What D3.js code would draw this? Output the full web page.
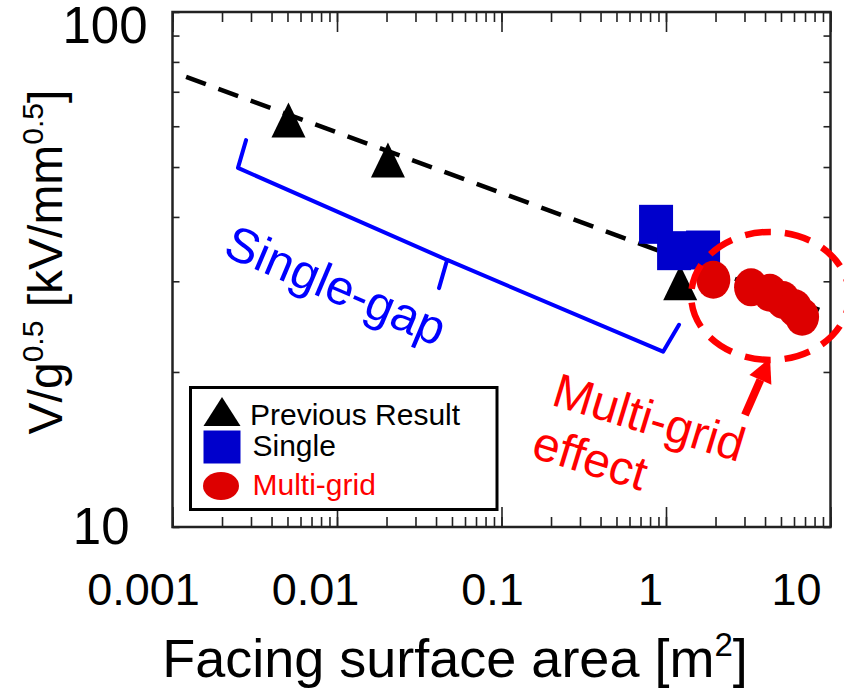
<!DOCTYPE html>
<html>
<head>
<meta charset="utf-8">
<script src="https://cdn.jsdelivr.net/npm/d3@7"></script>
<style>
  body { margin: 0; background: #fff; }
  text { font-family: "Liberation Sans", Arial, sans-serif; }
</style>
</head>
<body>
<script>
// data
var prevArea = [0.00507, 0.0204, 1.22],
    prevV = [61.7, 51.6, 29.8];
var singleArea = [0.87, 1.12, 1.68],
    singleV = [38.7, 34.4, 34.5];
var multiArea = [1.94, 3.29, 4.28, 5.14, 6.08, 6.72],
    multiV = [30.2, 29.2, 28.5, 27.6, 26.6, 25.6];
var fitArea = [0.00121, 8.87],
    fitV = [74.8, 26.3];
var xTicks = [0.001, 0.01, 0.1, 1, 10],
    xTickLabels = ["0.001", "0.01", "0.1", "1", "10"];
var yTicks = [10, 100],
    yTickLabels = ["10", "100"];
var legendNames = ["Previous Result", "Single", "Multi-grid"];

// annotation anchors, in data units
var bracketArea = [0.0028, 0.0025, 0.0467, 0.0417, 0.0467, 0.96, 1.2],
    bracketV = [56.4, 49.8, 33.0, 29.1, 33.0, 21.9, 24.7];
var ellipseArea = 4.3, ellipseV = 28.1;
var arrowArea = [3.02, 4.29], arrowV = [16.5, 21.3];

var margin = {top: 12, right: 13.5, bottom: 163, left: 172.5},
    width = 844 - margin.left - margin.right,
    height = 690 - margin.top - margin.bottom;

// tick label nudges (labels sit off their ticks in the original)
var xLabelNudge = [-29.5, -22, -9.5, -16, -34.5];
var yLabelNudge = [[-18, -1], [0, 13]];

var x = d3.scaleLog().domain([0.001, 10]).range([0, width]);
var y = d3.scaleLog().domain([10, 100]).range([height, 0]);

var svg = d3.select("body").append("svg")
    .attr("width", 844)
    .attr("height", 690);

var main = svg.append("g")
    .attr("transform", "translate(" + margin.left + "," + margin.top + ")");

// ticks on all four sides, pointing in
function noDomain(g) { g.select(".domain").remove(); g.selectAll("line").attr("stroke", "#222").attr("stroke-width", 1.6); }

main.append("g").attr("transform", "translate(0," + height + ")")
    .call(d3.axisBottom(x).tickValues(x.ticks()).tickSize(-10).tickFormat("")).call(noDomain);
main.append("g").attr("transform", "translate(0," + height + ")")
    .call(d3.axisBottom(x).tickValues(xTicks).tickSize(-20).tickFormat("")).call(noDomain);
main.append("g")
    .call(d3.axisTop(x).tickValues(x.ticks()).tickSize(-10).tickFormat("")).call(noDomain);
main.append("g")
    .call(d3.axisTop(x).tickValues(xTicks).tickSize(-20).tickFormat("")).call(noDomain);
main.append("g")
    .call(d3.axisLeft(y).tickValues(y.ticks()).tickSize(-7).tickFormat("")).call(noDomain);
main.append("g").attr("transform", "translate(" + width + ",0)")
    .call(d3.axisRight(y).tickValues(y.ticks()).tickSize(-7).tickFormat("")).call(noDomain);

main.append("rect")
    .attr("width", width)
    .attr("height", height)
    .attr("fill", "none")
    .attr("stroke", "#222")
    .attr("stroke-width", 2.5);

// tick labels
var xl = main.append("g").attr("transform", "translate(0," + height + ")")
    .call(d3.axisBottom(x).tickValues(xTicks).tickSize(0).tickPadding(46)
        .tickFormat(function(d, i) { return xTickLabels[i]; }));
xl.select(".domain").remove();
xl.attr("font-size", 45).attr("font-family", null);
xl.selectAll("text").attr("fill", "#000").attr("dx", function(d, i) { return xLabelNudge[i]; });

var yl = main.append("g")
    .call(d3.axisLeft(y).tickValues(yTicks).tickSize(0).tickPadding(25)
        .tickFormat(function(d, i) { return yTickLabels[i]; }));
yl.select(".domain").remove();
yl.attr("font-size", 51).attr("font-family", null);
yl.selectAll("text").attr("fill", "#000")
    .attr("dx", function(d, i) { return yLabelNudge[i][0]; })
    .attr("dy", function(d, i) { return (yLabelNudge[i][1] + 0.35 * 51); });

// axis titles
var xt = svg.append("text")
    .attr("x", 455)
    .attr("y", 677)
    .attr("text-anchor", "middle")
    .attr("font-size", 54);
xt.append("tspan").text("Facing surface area [m");
xt.append("tspan").attr("font-size", 33).attr("dy", -21).text("2");
xt.append("tspan").attr("dy", 21).text("]");

var yt = svg.append("text")
    .attr("transform", "translate(62,262)rotate(-90)")
    .attr("text-anchor", "middle")
    .attr("font-size", 48);
yt.append("tspan").text("V/g");
yt.append("tspan").attr("font-size", 30).attr("dy", -19).text("0.5");
yt.append("tspan").attr("dy", 19).text(" [kV/mm");
yt.append("tspan").attr("font-size", 30).attr("dy", -19).text("0.5");
yt.append("tspan").attr("dy", 19).text("]");

// fitted dashed line
var fit = fitArea.map(function(d, i) { return [d, fitV[i]]; });
main.append("path")
    .datum(fit)
    .attr("d", d3.line().x(function(d) { return x(d[0]); }).y(function(d) { return y(d[1]); }))
    .attr("fill", "none")
    .attr("stroke", "#000")
    .attr("stroke-width", 4.5)
    .attr("stroke-dasharray", "21 13.4");

function triPath(cx, cy, w, h) {
  return "M" + cx + "," + (cy - h / 2) + "L" + (cx + w / 2) + "," + (cy + h / 2) +
         "L" + (cx - w / 2) + "," + (cy + h / 2) + "Z";
}

// previous result
main.selectAll(".prev")
    .data(prevArea)
  .enter().append("path")
    .attr("class", "prev")
    .attr("d", function(d, i) { return triPath(x(d), y(prevV[i]), 34, 35); })
    .attr("fill", "#000");

// single
main.selectAll(".single")
    .data(singleArea)
  .enter().append("rect")
    .attr("class", "single")
    .attr("x", function(d) { return x(d) - 17; })
    .attr("y", function(d, i) { return y(singleV[i]) - 19.5; })
    .attr("width", 34)
    .attr("height", 39)
    .attr("fill", "#0000CC");

// multi-grid
main.selectAll(".multi")
    .data(multiArea)
  .enter().append("ellipse")
    .attr("class", "multi")
    .attr("cx", function(d) { return x(d); })
    .attr("cy", function(d, i) { return y(multiV[i]); })
    .attr("rx", 17)
    .attr("ry", 19)
    .attr("fill", "#DD0000");

// single-gap bracket
var br = bracketArea.map(function(d, i) { return [x(d), y(bracketV[i])]; });
main.append("path")
    .attr("d", d3.line()(br))
    .attr("fill", "none")
    .attr("stroke", "#0000FF")
    .attr("stroke-width", 4)
    .attr("stroke-linejoin", "round")
    .attr("stroke-linecap", "round");

main.append("text")
    .attr("transform", "translate(" + x(0.00986) + "," + y(29.5) + ")rotate(23)")
    .attr("text-anchor", "middle")
    .attr("dy", "0.35em")
    .attr("font-size", 49)
    .attr("fill", "#0000FF")
    .text("Single-gap");

// multi-grid effect
main.append("ellipse")
    .attr("cx", x(ellipseArea))
    .attr("cy", y(ellipseV))
    .attr("rx", 79)
    .attr("ry", 64)
    .attr("fill", "none")
    .attr("stroke", "#FF0000")
    .attr("stroke-width", 6.5)
    .attr("stroke-dasharray", "26 14")
    .attr("stroke-dashoffset", 8);

var a0 = [x(arrowArea[0]), y(arrowV[0])], a1 = [x(arrowArea[1]), y(arrowV[1])];
var ang = Math.atan2(a1[1] - a0[1], a1[0] - a0[0]);
var headLen = 24, headW = 12;
var hb = [a1[0] - headLen * Math.cos(ang), a1[1] - headLen * Math.sin(ang)];
main.append("line")
    .attr("x1", a0[0]).attr("y1", a0[1])
    .attr("x2", hb[0]).attr("y2", hb[1])
    .attr("stroke", "#FF0000")
    .attr("stroke-width", 8);
main.append("path")
    .attr("d", "M" + a1[0] + "," + a1[1] +
        "L" + (hb[0] + headW * Math.sin(ang)) + "," + (hb[1] - headW * Math.cos(ang)) +
        "L" + (hb[0] - headW * Math.sin(ang)) + "," + (hb[1] + headW * Math.cos(ang)) + "Z")
    .attr("fill", "#FF0000");

var mt = main.append("text")
    .attr("transform", "translate(" + x(0.197) + "," + y(17.3) + ")rotate(17)")
    .attr("font-size", 48)
    .attr("fill", "#FF0000");
mt.append("tspan").attr("x", 0).text("Multi-grid");
mt.append("tspan").attr("x", -4).attr("dy", 56).text("effect");

// legend
var legend = svg.append("g").attr("transform", "translate(190.5,387.5)");
legend.append("rect")
    .attr("width", 306.5)
    .attr("height", 122)
    .attr("fill", "#fff")
    .attr("stroke", "#000")
    .attr("stroke-width", 3);
legend.append("path").attr("d", triPath(31.5, 24, 37, 29)).attr("fill", "#000");
legend.append("rect").attr("x", 13).attr("y", 43).attr("width", 37).attr("height", 33).attr("fill", "#0000CC");
legend.append("ellipse").attr("cx", 30.5).attr("cy", 98.5).attr("rx", 18).attr("ry", 14).attr("fill", "#DD0000");

legend.selectAll(".lab")
    .data(legendNames)
  .enter().append("text")
    .attr("class", "lab")
    .attr("x", function(d, i) { return i == 0 ? 59.5 : 62; })
    .attr("y", function(d, i) { return [37, 68, 107.5][i]; })
    .attr("font-size", 30)
    .attr("fill", function(d, i) { return i == 2 ? "#FF0000" : "#000"; })
    .text(function(d) { return d; });
</script>
</body>
</html>
